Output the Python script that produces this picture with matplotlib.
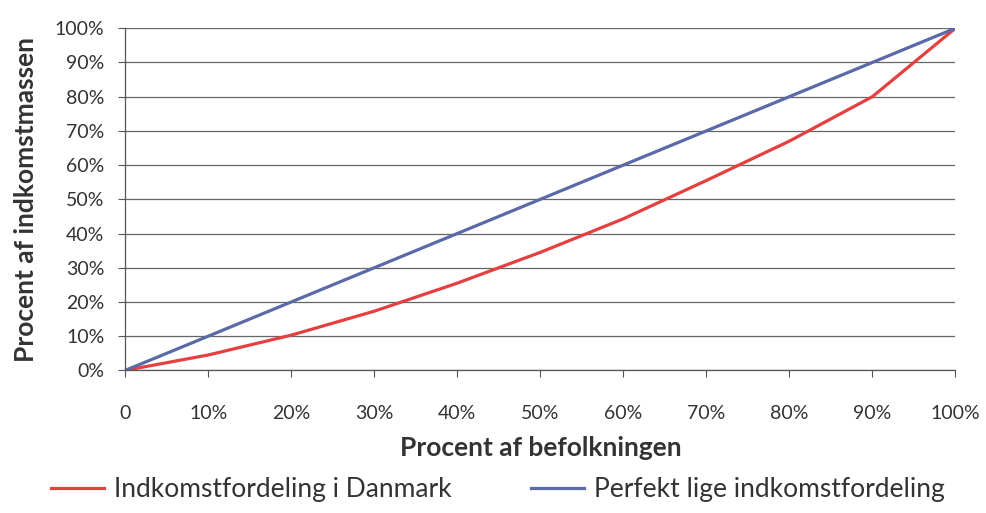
import numpy as np
import matplotlib.pyplot as plt

plt.rcParams['font.family'] = ['Lato', 'DejaVu Sans']

# procent af befolkningen / procent af indkomstmassen
befolkning = [0, 10, 20, 30, 40, 50, 60, 70, 80, 90, 100]
danmark = [0, 4.5, 10.3, 17.3, 25.5, 34.5, 44.3, 55.5, 67, 80, 100]
perfekt = [0, 10, 20, 30, 40, 50, 60, 70, 80, 90, 100]

xticklabels = ['0', '10%', '20%', '30%', '40%', '50%', '60%', '70%', '80%', '90%', '100%']
yticklabels = ['0%', '10%', '20%', '30%', '40%', '50%', '60%', '70%', '80%', '90%', '100%']

fig = plt.figure(figsize=(9.86, 5.13), dpi=100)
ax = fig.add_axes([0.127, 0.278, 0.842, 0.667])

ax.plot(befolkning, danmark, color='#E5403F', linewidth=2.3,
        label='Indkomstfordeling i Danmark')
ax.plot(befolkning, perfekt, color='#5B6AA6', linewidth=2.3,
        label='Perfekt lige indkomstfordeling')

ax.set_xlim(0, 100)
ax.set_ylim(0, 100)
ax.set_xticks(befolkning)
ax.set_xticklabels(xticklabels, fontsize=14, color='#333333')
ax.set_yticks(perfekt)
ax.set_yticklabels(yticklabels, fontsize=14, color='#333333')
ax.tick_params(axis='x', direction='out', length=5, pad=20, color='#555555')
ax.tick_params(axis='y', direction='out', length=5, pad=10, color='#555555')

ax.grid(True, axis='y', color='#666666', linewidth=0.9)
ax.set_axisbelow(True)
for s in ['top', 'right']:
    ax.spines[s].set_visible(False)
for s in ['left', 'bottom']:
    ax.spines[s].set_color('#555555')
    ax.spines[s].set_linewidth(0.9)

ax.set_xlabel('Procent af befolkningen', fontsize=19, fontweight='bold',
              color='#333333', labelpad=10)
ax.set_ylabel('Procent af indkomstmassen', fontsize=19, fontweight='bold',
              color='#333333', labelpad=12)

fig.legend(loc='center', bbox_to_anchor=(0.505, 0.045), ncol=2,
           frameon=False, fontsize=19, handlelength=2.0, columnspacing=3.0,
           handletextpad=0.4, labelcolor='#333333')

fig.savefig('out.png', dpi=100)
